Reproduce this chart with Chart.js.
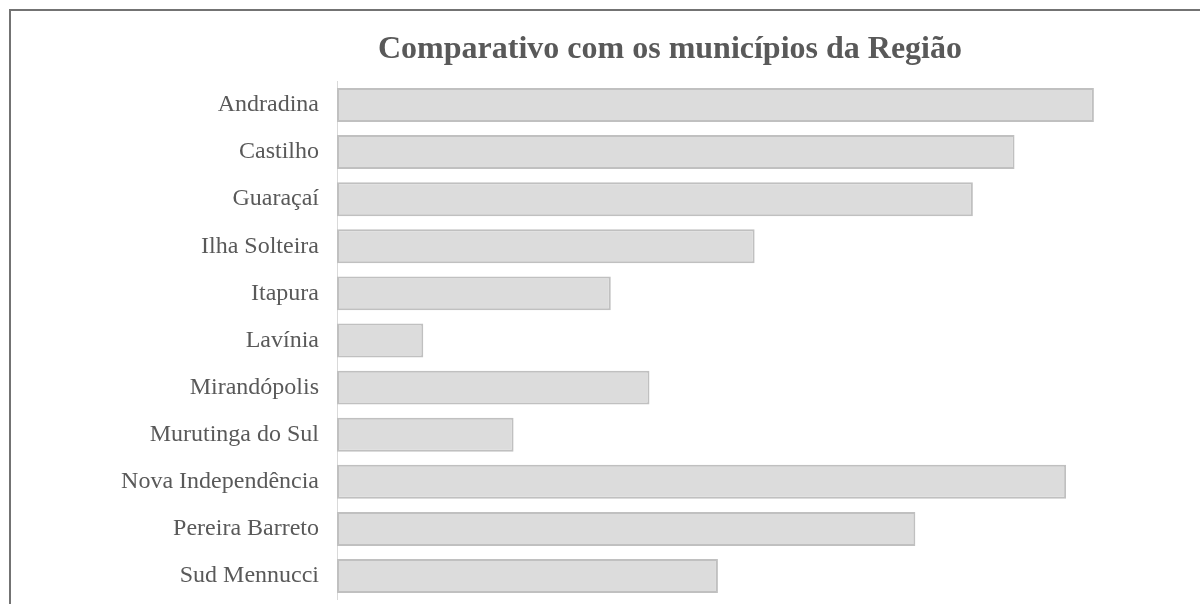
<!DOCTYPE html>
<html>
<head>
<meta charset="utf-8">
<script src="https://cdn.jsdelivr.net/npm/chart.js@4/dist/chart.umd.min.js"></script>
<style>
  html, body { margin: 0; padding: 0; background: #fff; width: 1200px; height: 604px; overflow: hidden; }
  #box { position: absolute; left: 9px; top: 9px; border-left: 2px solid #737373; border-top: 2px solid #737373; width: 1318px; height: 621px; }
  #c { display: block; }
</style>
</head>
<body>
<div id="box"><canvas id="c" width="1318" height="621"></canvas></div>
<script>
const title = 'Comparativo com os municípios da Região';
const municipios = ['Andradina', 'Castilho', 'Guaraçaí', 'Ilha Solteira', 'Itapura', 'Lavínia', 'Mirandópolis', 'Murutinga do Sul', 'Nova Independência', 'Pereira Barreto', 'Sud Mennucci'];
const valores = [76.3, 68.3, 64.1, 42.1, 27.6, 8.7, 31.5, 17.8, 73.5, 58.3, 38.4];

new Chart(document.getElementById('c'), {
  type: 'bar',
  data: {
    labels: municipios,
    datasets: [{
      data: valores,
      backgroundColor: '#dcdcdc',
      borderColor: '#c0c0c0',
      borderWidth: 2,
      borderSkipped: false,
      categoryPercentage: 1,
      barPercentage: 0.72
    }]
  },
  options: {
    indexAxis: 'y',
    responsive: false,
    animation: false,
    layout: { padding: { top: 0, bottom: 12, left: 0, right: 0 } },
    plugins: {
      legend: { display: false },
      tooltip: { enabled: false },
      title: {
        display: true,
        text: title,
        color: '#595959',
        font: { family: '"Liberation Serif", "Times New Roman", serif', size: 32, weight: 'bold', lineHeight: 1.2 },
        padding: { top: 20, bottom: 12 }
      }
    },
    scales: {
      x: { display: false, min: 0, max: 100 },
      y: {
        afterFit: (s) => { s.width = 326; },
        grid: { display: false, drawTicks: false },
        border: { display: true, color: '#d9d9d9', width: 1 },
        ticks: {
          color: '#595959',
          padding: 18,
          font: { family: '"Liberation Serif", "Times New Roman", serif', size: 24 }
        }
      }
    }
  }
});
</script>
</body>
</html>
